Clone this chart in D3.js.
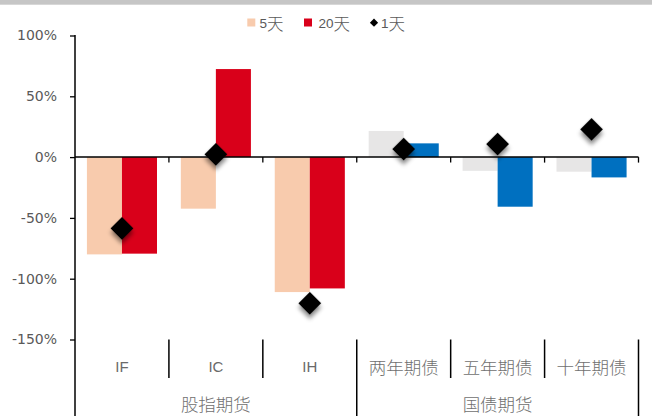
<!DOCTYPE html>
<html>
<head>
<meta charset="utf-8">
<script src="https://cdn.jsdelivr.net/npm/d3@7"></script>
<style>
  html, body { margin: 0; padding: 0; background: #fff; }
  svg { display: block; }
</style>
</head>
<body>
<svg id="chart" width="652" height="416"></svg>
<script>
// Categories (inner level) and their groups (outer level)
const categories = ["IF", "IC", "IH", "两年期债", "五年期债", "十年期债"];
const groups = [
  { name: "股指期货", members: ["IF", "IC", "IH"] },
  { name: "国债期货", members: ["两年期债", "五年期债", "十年期债"] }
];

// Series values (%)
const series = ["5天", "20天"];
const values5d  = [-80, -42.4, -111, 21.5, -11.3, -12];
const values20d = [-79.4, 72.4, -108, 11.3, -40.8, -16.7];
const values1d  = [-58.6, 2.3, -120.2, 6.6, 10.7, 22.8];

// Y axis tick values (%)
const yTicks = [-150, -100, -50, 0, 50, 100];

// Colours: equity futures use peach/red, bond futures use grey/blue
const equityColors = { "5天": "#F8CBAD", "20天": "#D9001A" };
const bondColors   = { "5天": "#E7E6E6", "20天": "#0070C0" };
const isBond = c => groups[1].members.includes(c);

const svg = d3.select("#chart");

// top grey band
svg.append("rect").attr("x", 0).attr("y", 0).attr("width", 652).attr("height", 4.7).attr("fill", "#c6c6c6");

const plotLeft = 75, plotRight = 638.5, plotTop = 35.5, plotBottom = 339.5;

const x0 = d3.scaleBand().domain(categories).range([plotLeft, plotRight]).paddingInner(0).paddingOuter(0);
const x1 = d3.scaleBand().domain(series).range([0, x0.bandwidth()]).paddingInner(0).paddingOuter(0.34);
const y = d3.scaleLinear().domain([-150, 100]).range([plotBottom, plotTop]);

// drop shadow for the diamond markers
const defs = svg.append("defs");
const f = defs.append("filter").attr("id", "shadow")
  .attr("x", "-50%").attr("y", "-50%").attr("width", "200%").attr("height", "200%");
f.append("feDropShadow").attr("dx", 3).attr("dy", 3).attr("stdDeviation", 2.2)
  .attr("flood-color", "#000").attr("flood-opacity", 0.45);

// bars
const barData = [];
categories.forEach((c, i) => {
  barData.push({ cat: c, s: "5天", v: values5d[i] });
  barData.push({ cat: c, s: "20天", v: values20d[i] });
});
svg.append("g").selectAll("rect").data(barData).join("rect")
  .attr("x", d => x0(d.cat) + x1(d.s))
  .attr("width", x1.bandwidth())
  .attr("y", d => y(Math.max(0, d.v)))
  .attr("height", d => Math.abs(y(d.v) - y(0)))
  .attr("fill", d => (isBond(d.cat) ? bondColors : equityColors)[d.s]);

// y axis
const yAxis = svg.append("g").attr("transform", `translate(${plotLeft},0)`)
  .call(d3.axisLeft(y).tickValues(yTicks).tickSize(5).tickPadding(13).tickFormat(d => d + "%"));
yAxis.select(".domain").remove();
yAxis.selectAll(".tick line").attr("stroke", "#000").attr("stroke-width", 1.3);
yAxis.selectAll(".tick text")
  .attr("font-family", "'DejaVu Sans', sans-serif").attr("font-size", 14).attr("fill", "#595959");
svg.append("line").attr("x1", plotLeft).attr("x2", plotLeft).attr("y1", plotTop - 0.5).attr("y2", 416)
  .attr("stroke", "#000").attr("stroke-width", 1.5);

// zero line with ticks at category boundaries
const xAxis = svg.append("g").attr("transform", `translate(0,${y(0)})`);
xAxis.append("line").attr("x1", plotLeft).attr("x2", plotRight).attr("stroke", "#000").attr("stroke-width", 1.5);
const boundaries = categories.map(c => x0(c) + x0.bandwidth());
xAxis.selectAll("line.tk").data(boundaries).join("line").attr("class", "tk")
  .attr("x1", d => d).attr("x2", d => d).attr("y1", 0).attr("y2", 5.5)
  .attr("stroke", "#000").attr("stroke-width", 1.3);

// category label area: dividers
const lab = svg.append("g");
const groupEnds = groups.map(g => x0(g.members[g.members.length - 1]) + x0.bandwidth());
boundaries.forEach(b => {
  const full = groupEnds.some(e => Math.abs(e - b) < 0.5);
  lab.append("line").attr("x1", b).attr("x2", b).attr("y1", plotBottom).attr("y2", full ? 416 : 378)
    .attr("stroke", "#000").attr("stroke-width", 1.5);
});

// inner labels
lab.selectAll("text.cat").data(categories).join("text").attr("class", "cat")
  .attr("x", d => x0(d) + x0.bandwidth() / 2)
  .attr("y", 366)
  .attr("text-anchor", "middle").attr("dominant-baseline", "central")
  .attr("font-family", d => isBond(d) ? "'Noto Sans CJK SC', sans-serif" : "'Liberation Sans', sans-serif")
  .attr("font-size", d => isBond(d) ? 17.5 : 15)
  .attr("font-weight", d => isBond(d) ? 300 : 400)
  .attr("fill", d => isBond(d) ? "#707070" : "#6a6a6a")
  .text(d => d);

// outer group labels
lab.selectAll("text.grp").data(groups).join("text").attr("class", "grp")
  .attr("x", g => (x0(g.members[0]) + x0(g.members[g.members.length - 1]) + x0.bandwidth()) / 2)
  .attr("y", 403.5)
  .attr("text-anchor", "middle").attr("dominant-baseline", "central")
  .attr("font-family", "'Noto Sans CJK SC', sans-serif").attr("font-size", 17.5).attr("font-weight", 300)
  .attr("fill", "#707070")
  .text(g => g.name);

// 1-day diamonds
const diamond = d3.symbol().type(d3.symbolSquare).size(260);
svg.append("g").selectAll("path").data(categories).join("path")
  .attr("d", diamond)
  .attr("transform", (d, i) => `translate(${x0(d) + x0.bandwidth() / 2},${y(values1d[i])}) rotate(45)`)
  .attr("fill", "#000")
  .attr("filter", "url(#shadow)");

// legend: digits in a narrow Latin face, the 天 glyph in the CJK face
const legend = svg.append("g").attr("fill", "#595959");
const legendItems = [
  { num: "5",  type: "rect", color: equityColors["5天"], x: 247.3, tx: 259.5 },
  { num: "20", type: "rect", color: equityColors["20天"], x: 304, tx: 318.5 },
  { num: "1",  type: "diamond", color: "#000", x: 369.5, tx: 381 }
];
legendItems.forEach(it => {
  if (it.type === "rect") {
    legend.append("rect").attr("x", it.x).attr("y", 18.5).attr("width", 8).attr("height", 8).attr("fill", it.color);
  } else {
    legend.append("path").attr("d", d3.symbol().type(d3.symbolSquare).size(34))
      .attr("transform", `translate(${it.x + 4.5},22.7) rotate(45)`).attr("fill", it.color);
  }
  const t = legend.append("text").attr("x", it.tx).attr("y", 22.7).attr("dominant-baseline", "central");
  t.append("tspan").attr("font-family", "'Liberation Sans', sans-serif").attr("font-size", 13.5).text(it.num);
  t.append("tspan").attr("font-family", "'Noto Sans CJK SC', sans-serif").attr("font-size", 16.5)
    .attr("font-weight", 300).text("天");
});
</script>
</body>
</html>
